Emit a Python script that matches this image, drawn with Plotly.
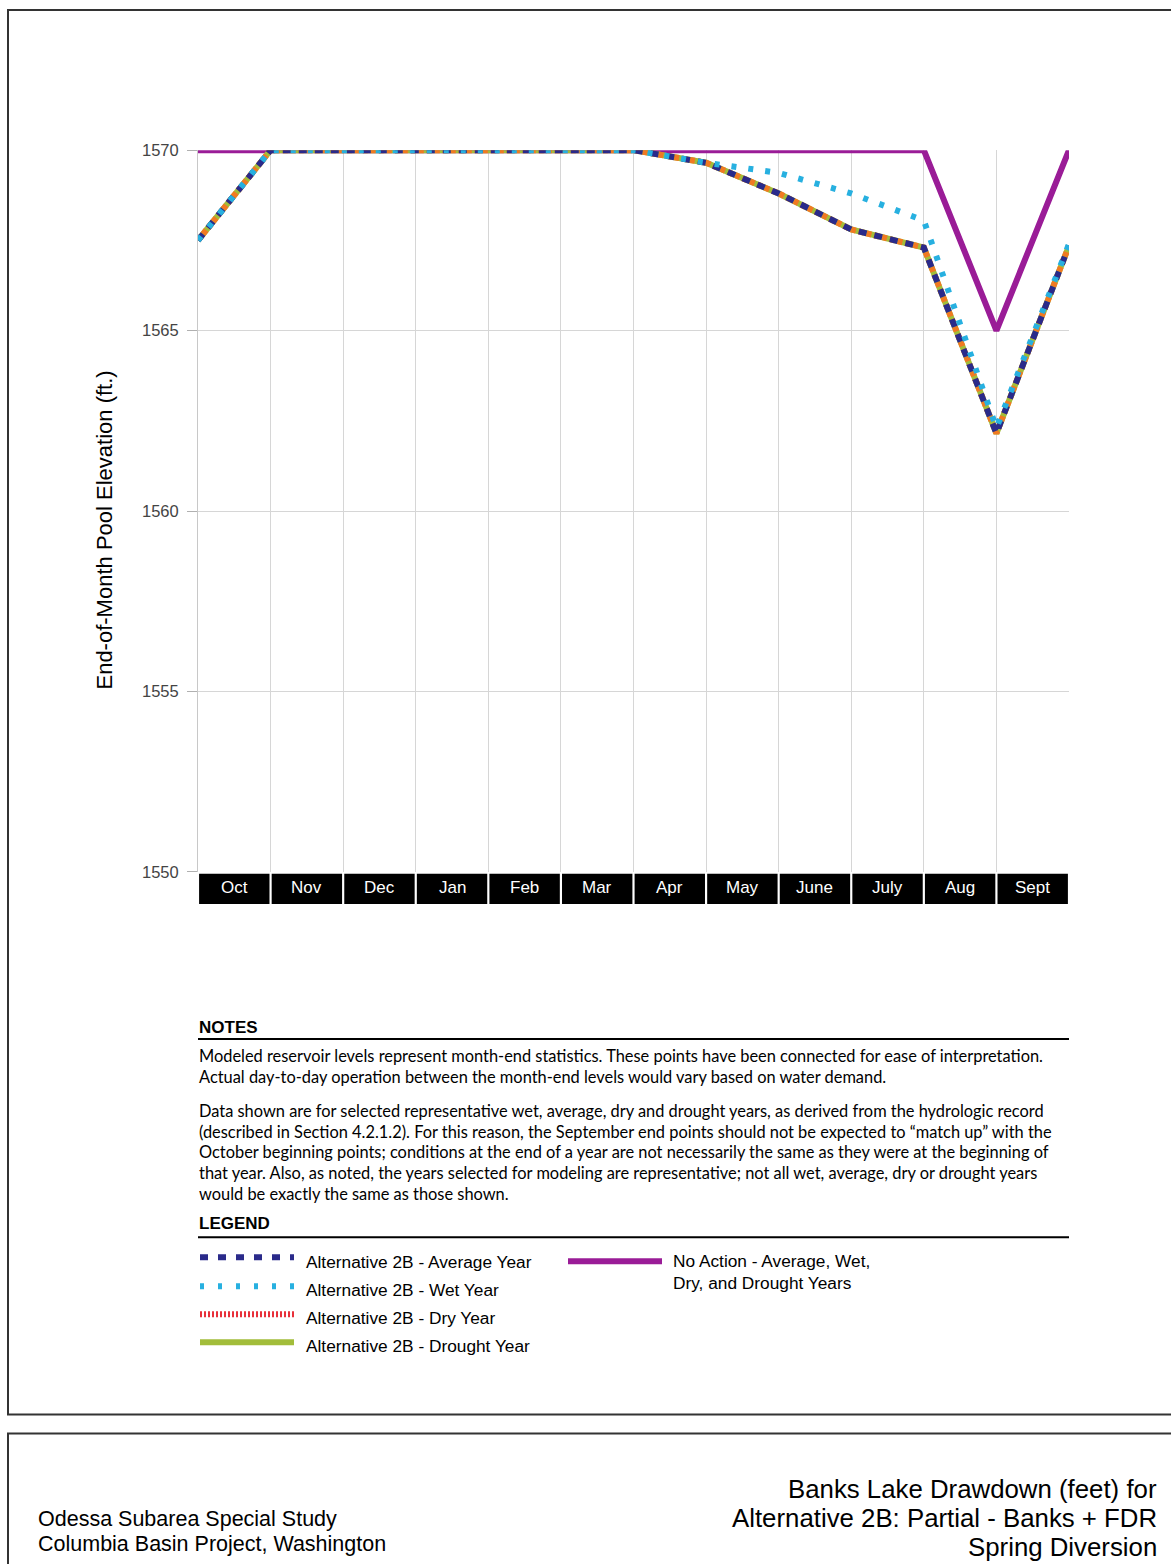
import plotly.graph_objects as go

W, H = 1171, 1564
Y_OFFSET, Y_SCALE = 9, 0.9875  # vertical placement of the page inside the window

# Month-end points: start of October followed by the end of each month
x_points = list(range(13))
months = ["Oct", "Nov", "Dec", "Jan", "Feb", "Mar", "Apr", "May", "June", "July", "Aug", "Sept"]

no_action = [1570, 1570, 1570, 1570, 1570, 1570, 1570, 1570, 1570, 1570, 1570, 1565, 1570]
alt2b_average = [1567.5, 1570, 1570, 1570, 1570, 1570, 1570, 1569.65, 1568.8, 1567.8, 1567.3, 1562.15, 1567.35]
alt2b_wet = [1567.5, 1570, 1570, 1570, 1570, 1570, 1570, 1569.65, 1569.37, 1568.8, 1568.05, 1562.3, 1567.4]
alt2b_dry = [1567.5, 1570, 1570, 1570, 1570, 1570, 1570, 1569.65, 1568.8, 1567.8, 1567.3, 1562.15, 1567.35]
alt2b_drought = [1567.5, 1570, 1570, 1570, 1570, 1570, 1570, 1569.65, 1568.8, 1567.8, 1567.3, 1562.15, 1567.35]

y_ticks = [1550, 1555, 1560, 1565, 1570]

notes_text = [
    "Modeled reservoir levels represent month-end statistics. These points have been connected for ease of interpretation.",
    "Actual day-to-day operation between the month-end levels would vary based on water demand.",
    "Data shown are for selected representative wet, average, dry and drought years, as derived from the hydrologic record",
    "(described in Section 4.2.1.2). For this reason, the September end points should not be expected to \u201cmatch up\u201d with the",
    "October beginning points; conditions at the end of a year are not necessarily the same as they were at the beginning of",
    "that year. Also, as noted, the years selected for modeling are representative; not all wet, average, dry or drought years",
    "would be exactly the same as those shown.",
]

study_lines = ["Odessa Subarea Special Study", "Columbia Basin Project, Washington"]
title_lines = ["Banks Lake Drawdown (feet) for", "Alternative 2B: Partial - Banks + FDR", "Spring Diversion"]

PURPLE = "#9a1c97"
NAVY = "#2a2a8a"
CYAN = "#27b0e0"
ORANGE = "#f07a22"
GREEN = "#a2bd3a"


def px(x):
    return x / W


def py(y):
    return 1 - ((y - Y_OFFSET) / Y_SCALE) / H


fig = go.Figure()

fig.add_trace(go.Scatter(x=x_points, y=no_action, mode="lines",
                         line=dict(color=PURPLE, width=6), hoverinfo="skip"))
fig.add_trace(go.Scatter(x=x_points, y=alt2b_drought, mode="lines",
                         line=dict(color=GREEN, width=6), hoverinfo="skip"))
fig.add_trace(go.Scatter(x=x_points, y=alt2b_dry, mode="lines",
                         line=dict(color=ORANGE, width=6, dash="5px,3px"), hoverinfo="skip"))
fig.add_trace(go.Scatter(x=x_points, y=alt2b_average, mode="lines",
                         line=dict(color=NAVY, width=6, dash="8px,8px"), hoverinfo="skip"))
fig.add_trace(go.Scatter(x=x_points, y=alt2b_wet, mode="lines",
                         line=dict(color=CYAN, width=6, dash="5px,12px"), hoverinfo="skip"))

shapes = []
annotations = []

# Black month label boxes under the plot
for i, m in enumerate(months):
    shapes.append(dict(type="rect", xref="x", yref="paper", x0=i + 0.015, x1=i + 0.985,
                       y0=py(903), y1=py(873), fillcolor="black", line=dict(width=0), layer="above"))
    annotations.append(dict(x=i + 0.5, y=py(887), xref="x", yref="paper", text=m, showarrow=False,
                            font=dict(family="Arial", size=17, color="white"),
                            xanchor="center", yanchor="middle"))

# Y axis title
annotations.append(dict(x=px(105), y=py(530), xref="paper", yref="paper",
                        text="End-of-Month Pool Elevation (ft.)", textangle=-90, showarrow=False,
                        font=dict(family="Arial", size=22, color="black"),
                        xanchor="center", yanchor="middle"))

# Notes section
annotations.append(dict(x=px(197), y=py(1026), xref="paper", yref="paper", text="<b>NOTES</b>",
                        showarrow=False, font=dict(family="Arial", size=17, color="black"),
                        xanchor="left", yanchor="middle"))
shapes.append(dict(type="line", xref="paper", yref="paper", x0=px(198), x1=px(1069),
                   y0=py(1038), y1=py(1038), line=dict(color="black", width=2)))
note_rows = [1054, 1075, 1109, 1130, 1150, 1171, 1192]
for txt, yy in zip(notes_text, note_rows):
    annotations.append(dict(x=px(197), y=py(yy), xref="paper", yref="paper", text=txt,
                            showarrow=False, font=dict(family="Lato", size=16.4, color="black"),
                            xanchor="left", yanchor="middle"))

# Legend section
annotations.append(dict(x=px(197), y=py(1222), xref="paper", yref="paper", text="<b>LEGEND</b>",
                        showarrow=False, font=dict(family="Arial", size=17, color="black"),
                        xanchor="left", yanchor="middle"))
shapes.append(dict(type="line", xref="paper", yref="paper", x0=px(198), x1=px(1069),
                   y0=py(1236), y1=py(1236), line=dict(color="black", width=2)))

legend_items = [
    ("Alternative 2B - Average Year", NAVY, 6, "8px,10px", 1256, 1261),
    ("Alternative 2B - Wet Year", CYAN, 6, "4px,14px", 1285, 1289),
    ("Alternative 2B - Dry Year", "#e8303a", 6, "2px,2px", 1313, 1317),
    ("Alternative 2B - Drought Year", GREEN, 6, "solid", 1341, 1345),
]
for label, color, width, dash, ly, ty in legend_items:
    shapes.append(dict(type="line", xref="paper", yref="paper", x0=px(200), x1=px(294),
                       y0=py(ly), y1=py(ly), line=dict(color=color, width=width, dash=dash)))
    annotations.append(dict(x=px(304), y=py(ty), xref="paper", yref="paper", text=label,
                            showarrow=False, font=dict(family="Arial", size=17.3, color="black"),
                            xanchor="left", yanchor="middle"))

shapes.append(dict(type="line", xref="paper", yref="paper", x0=px(568), x1=px(662),
                   y0=py(1260), y1=py(1260), line=dict(color=PURPLE, width=6)))
annotations.append(dict(x=px(671), y=py(1271), xref="paper", yref="paper",
                        text="No Action - Average, Wet,<br>Dry, and Drought Years",
                        showarrow=False, align="left",
                        font=dict(family="Arial", size=17.3, color="black"),
                        xanchor="left", yanchor="middle"))

# Page frames
shapes.append(dict(type="rect", xref="paper", yref="paper", x0=px(8), x1=px(1180),
                   y0=py(1413), y1=py(10), line=dict(color="#333333", width=2)))
shapes.append(dict(type="rect", xref="paper", yref="paper", x0=px(8), x1=px(1180),
                   y0=py(1600), y1=py(1432), line=dict(color="#333333", width=2)))

# Title block
for txt, yy in zip(study_lines, [1517, 1542]):
    annotations.append(dict(x=px(36), y=py(yy), xref="paper", yref="paper", text=txt,
                            showarrow=False, font=dict(family="Arial", size=21.5, color="black"),
                            xanchor="left", yanchor="middle"))
for txt, yy in zip(title_lines, [1488, 1516, 1545]):
    annotations.append(dict(x=px(1159), y=py(yy), xref="paper", yref="paper", text=txt,
                            showarrow=False, font=dict(family="Arial", size=25.8, color="black"),
                            xanchor="right", yanchor="middle"))

fig.update_layout(
    width=W, height=H,
    margin=dict(l=0, r=0, t=0, b=0),
    paper_bgcolor="white", plot_bgcolor="white",
    showlegend=False,
    shapes=shapes, annotations=annotations,
    xaxis=dict(domain=[px(198), px(1069)], range=[0, 12], dtick=1, tick0=0,
               showgrid=True, gridcolor="#d6d6d6", gridwidth=1,
               showticklabels=False, zeroline=False, showline=False, ticks=""),
    yaxis=dict(domain=[py(871), py(150)], range=[1550, 1570], tickvals=y_ticks,
               showgrid=True, gridcolor="#d6d6d6", gridwidth=1,
               ticks="outside", ticklen=10, tickcolor="#b0b0b0", ticklabelstandoff=5,
               tickfont=dict(family="Arial", size=16.5, color="#444444"),
               showline=True, linecolor="#c8c8c8", linewidth=1, zeroline=False),
)

fig.write_html("out.html")
